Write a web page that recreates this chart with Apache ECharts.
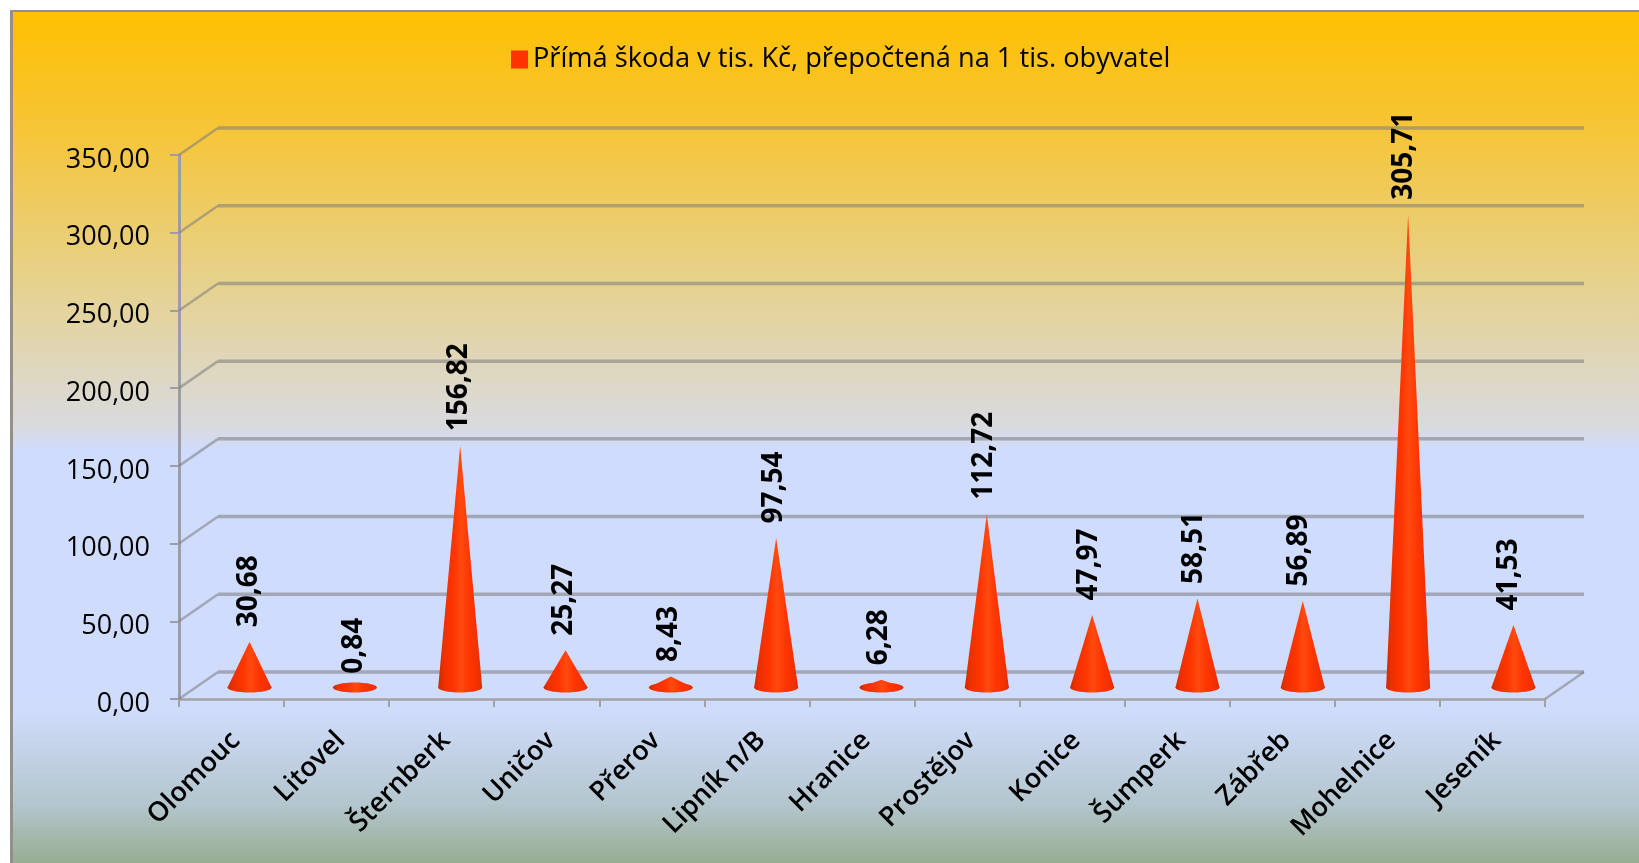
<!DOCTYPE html>
<html>
<head>
<meta charset="utf-8">
<style>html,body{margin:0;padding:0;background:#fff;overflow:hidden}#c{width:1639px;height:863px}</style>
<script src="https://cdn.jsdelivr.net/npm/echarts@6/dist/echarts.min.js"></script>
</head>
<body>
<div id="c"></div>
<script>
const categories = ['Olomouc','Litovel','Šternberk','Uničov','Přerov','Lipník n/B','Hranice','Prostějov','Konice','Šumperk','Zábřeb','Mohelnice','Jeseník'];
const values = [30.68,0.84,156.82,25.27,8.43,97.54,6.28,112.72,47.97,58.51,56.89,305.71,41.53];
const gridLevels = [0,50,100,150,200,250,300,350];
const seriesName = 'Přímá škoda v tis. Kč, přepočtená na 1 tis. obyvatel';

const fmt = v => v.toFixed(2).replace('.', ',');
const FONT = '"Open Sans"';
const DX = 39, DY = -27;          // oblique depth of the 3D box
const GRID_COLOR = 'rgba(125,125,125,0.56)';
const chart = echarts.init(document.getElementById('c'));

const coneFill = new echarts.graphic.LinearGradient(0,0,1,0,[
  {offset:0,color:'#CC2A00'},{offset:0.12,color:'#EC3000'},{offset:0.35,color:'#FF3500'},
  {offset:0.52,color:'#FF4A10'},{offset:0.72,color:'#FF3500'},{offset:0.92,color:'#F03000'},{offset:1,color:'#DC2C00'}
]);

chart.setOption({
  animation:false,
  graphic:[
    {type:'rect',z:-10,silent:true,shape:{x:11,y:11,width:1628,height:852},
     style:{fill:new echarts.graphic.LinearGradient(0,0,0,1,[
       {offset:0,color:'#FFC000'},{offset:0.14,color:'#F6C538'},{offset:0.32,color:'#E6D28E'},
       {offset:0.49,color:'#D9DAE0'},{offset:0.515,color:'#D0DCFE'},{offset:0.82,color:'#D0DCFC'},{offset:0.93,color:'#B4C6CE'},{offset:1,color:'#98AD92'}
     ]),stroke:null}},
    {type:'rect',z:-9,silent:true,shape:{x:10,y:10,width:1629,height:2},style:{fill:'#949089'}},
    {type:'rect',z:-9,silent:true,shape:{x:10,y:10,width:3,height:853},style:{fill:'#949089'}}
  ],
  legend:{
    show:true,left:506,top:41,data:[{name:seriesName,icon:'rect'}],
    itemWidth:17,itemHeight:18,itemGap:10,
    textStyle:{fontFamily:FONT,fontSize:27.2,color:'#000'},selectedMode:false
  },
  grid:{left:179,top:155,width:1366,height:544,containLabel:false},
  xAxis:{
    type:'category',data:categories,boundaryGap:true,
    axisLine:{show:true,lineStyle:{color:'#A3A3A3',width:2.5}},
    axisTick:{show:true,alignWithLabel:false,length:8,lineStyle:{color:'#A3A3A3',width:2}},
    axisLabel:{rotate:45,interval:0,margin:33,verticalAlign:'top',lineHeight:12,fontFamily:FONT,fontSize:27,fontWeight:600,color:'#000'}
  },
  yAxis:{
    type:'value',min:0,max:350,interval:50,
    axisLine:{show:true,lineStyle:{color:'#9C9DA6',width:3}},
    axisTick:{show:true,length:9,lineStyle:{color:'#9C9DA6',width:2}},
    splitLine:{show:false},
    axisLabel:{margin:29,verticalAlign:'top',lineHeight:10,fontFamily:FONT,fontSize:27,color:'#000',formatter:fmt}
  },
  series:[
    {
      type:'custom',name:'grid',z:1,silent:true,legendHoverLink:false,clip:false,
      data:gridLevels.map(v=>[0,v]),
      renderItem(params,api){
        const y = api.coord([0,api.value(1)])[1];
        const x0 = params.coordSys.x, x1 = x0+params.coordSys.width;
        const kids = [
          {type:'line',shape:{x1:x0,y1:y,x2:x0+DX,y2:y+DY},style:{stroke:GRID_COLOR,lineWidth:2.5}},
          {type:'line',shape:{x1:x0+DX,y1:y+DY,x2:x1+DX,y2:y+DY},style:{stroke:GRID_COLOR,lineWidth:3.5}}
        ];
        if(api.value(1)===0) kids.push({type:'line',shape:{x1:x1,y1:y,x2:x1+DX,y2:y+DY},style:{stroke:GRID_COLOR,lineWidth:2.5}});
        return {type:'group',children:kids};
      }
    },
    {
      type:'custom',name:seriesName,z:3,silent:true,clip:false,
      itemStyle:{color:'#FF3300'},
      data:values.map((v,i)=>[i,v]),
      renderItem(params,api){
        const i = api.value(0);
        const base = api.coord([i,0]);
        const top  = api.coord([i,api.value(1)]);
        const cx = base[0]+18+i*0.25, cy = base[1]+DY*0.5+2;
        const ay = top[1]+DY*0.5+4;
        const rx = 22, ry = 5;
        return {type:'group',children:[
          {type:'ellipse',shape:{cx:cx,cy:cy,rx:rx,ry:ry},style:{fill:coneFill}},
          {type:'polygon',shape:{points:[[cx,ay],[cx+rx,cy],[cx-rx,cy]]},style:{fill:coneFill}}
        ]};
      }
    },
    {
      type:'bar',name:'labels',z:4,silent:true,barWidth:1,
      itemStyle:{color:'rgba(0,0,0,0)'},
      data:values,
      label:{
        show:true,position:'top',rotate:90,align:'left',verticalAlign:'middle',distance:0,offset:[24,17],
        fontFamily:FONT,fontSize:28,fontWeight:700,color:'#000',formatter:p=>fmt(p.value)
      }
    }
  ]
});
</script>
</body>
</html>
